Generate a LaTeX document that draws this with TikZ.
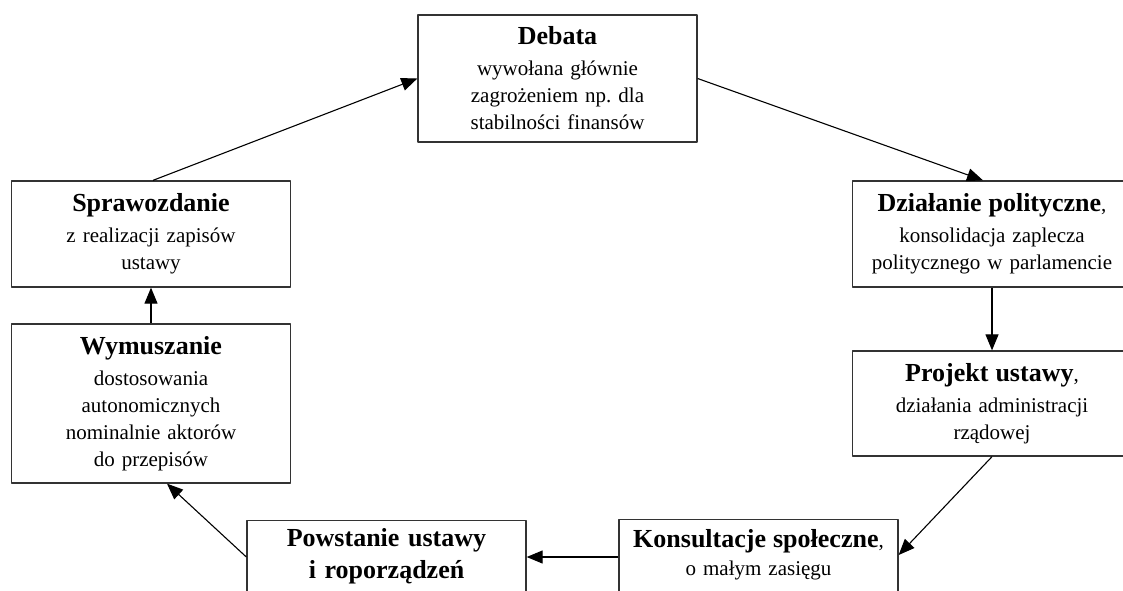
\documentclass[tikz,border=0pt]{standalone}
\usepackage{fontspec}
\setmainfont{Liberation Serif}
\usetikzlibrary{arrows.meta}
\frenchspacing
\newcommand\tyt[1]{{\fontsize{26}{32}\selectfont\bfseries #1}}

\begin{document}
\begin{tikzpicture}[x=1pt,y=-1pt,line join=round,
  blok/.style={draw=black!80,line width=1.3pt,text width=255pt,inner xsep=12pt,
    align=center,font=\fontsize{21}{27}\selectfont},
  strz/.style={line width=1.1pt,-{Triangle[length=16pt,width=13pt]}}]
  \useasboundingbox (0,0) rectangle (1123,590);
  \clip (0,0) rectangle (1123,590);
  \node[blok,minimum height=127pt] (Deb) at (557.5,78.5)
    {\tyt{Debata}\\[4pt] wywołana głównie\\ zagrożeniem np. dla\\ stabilności finansów};
  \node[blok,minimum height=106pt] (Dzial) at (992,234)
    {\tyt{Działanie polityczne},\\[4pt] konsolidacja zaplecza\\ politycznego w parlamencie};
  \node[blok,minimum height=105pt] (Proj) at (992,403.5)
    {\tyt{Projekt ustawy},\\[4pt] działania administracji\\ rządowej};
  \node[blok,anchor=north,inner ysep=10pt,text depth=60pt] (Kons) at (758.5,519)
    {\tyt{Konsultacje społeczne},\\[1pt] o małym zasięgu};
  \node[blok,anchor=north,inner ysep=8pt,text depth=60pt,
    font=\fontsize{26}{32}\selectfont\bfseries] (Pow) at (386.5,520)
    {Powstanie ustawy\\ i roporządzeń};
  \node[blok,minimum height=159pt] (Wym) at (151,403.5)
    {\tyt{Wymuszanie}\\[4pt] dostosowania\\ autonomicznych\\ nominalnie aktorów\\ do przepisów};
  \node[blok,minimum height=106pt] (Spr) at (151,234)
    {\tyt{Sprawozdanie}\\[4pt] z realizacji zapisów\\ ustawy};
  % cykl
  \draw[strz] (Deb.east) -- ([xshift=-9pt]Dzial.north);
  \draw[strz] (Dzial.south) -- (Proj.north);
  \draw[strz] (Proj.south) -- ([yshift=-36pt]Kons.north east);
  \draw[strz] ([yshift=-38pt]Kons.north west) -- ([yshift=-37pt]Pow.north east);
  \draw[strz] ([yshift=-37pt]Pow.north west) -- ([xshift=16pt]Wym.south);
  \draw[strz] (Wym.north) -- (Spr.south);
  \draw[strz] ([xshift=2pt]Spr.north) -- (Deb.west);
\end{tikzpicture}
\end{document}
